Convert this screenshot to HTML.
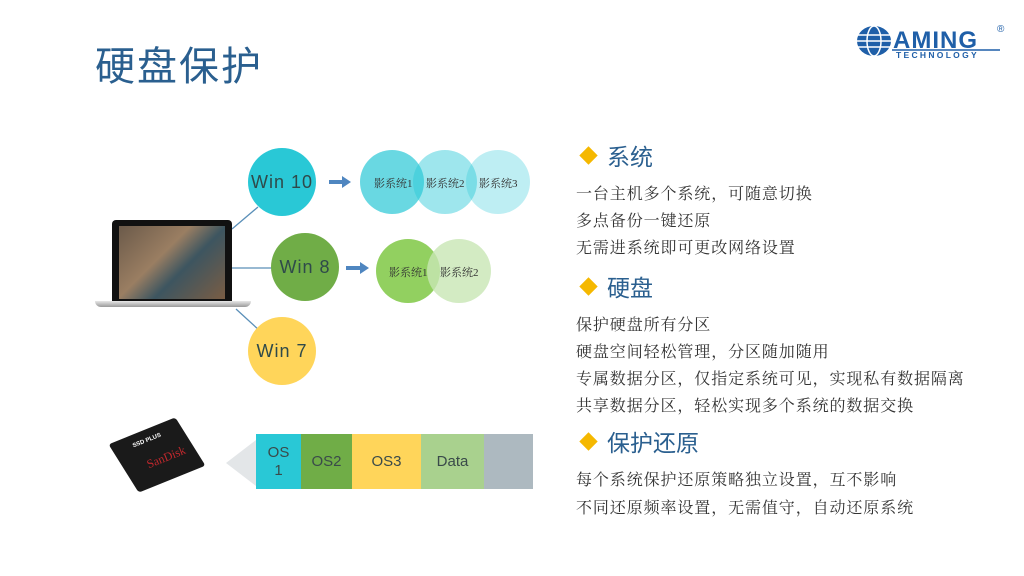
<!DOCTYPE html>
<html><head><meta charset="utf-8"><style>
body{margin:0;width:1024px;height:576px;background:#fff;position:relative;overflow:hidden;font-family:"Liberation Sans","Noto Sans CJK SC",sans-serif}
.a{position:absolute}
.c{position:absolute;border-radius:50%;display:flex;align-items:center;justify-content:center}
.w{font-family:"Comic Sans MS","Liberation Sans",sans-serif;font-size:18px;color:#2f4a4a;letter-spacing:1px}
.s{font-family:"Liberation Serif","Noto Serif CJK SC",serif;font-size:11px;color:#333}
.h{position:absolute;left:578px;font-size:23px;color:#2a5f8f;display:flex;align-items:center}
.h i{display:inline-block;width:13px;height:13px;background:#f5b800;transform:rotate(45deg);margin:0 12px 0 4px}
.t{position:absolute;left:576px;font-family:"Liberation Serif","Noto Serif CJK SC",serif;font-size:16px;color:#333;letter-spacing:0.9px;white-space:nowrap}
.seg{position:absolute;top:434px;height:55px;display:flex;align-items:center;justify-content:center;font-family:"Comic Sans MS","Liberation Sans",sans-serif;font-size:15px;color:#3a4a4a;text-align:center;line-height:18px}
</style></head><body>
<div class="a" style="left:95px;top:34px;font-size:40px;color:#2a5f8f;letter-spacing:2px">硬盘保护</div>
<svg class="a" style="left:852px;top:18px" width="170" height="45">
<ellipse cx="22" cy="23" rx="17" ry="15" fill="#1f5fa8"/>
<g stroke="#fff" stroke-width="1.5" fill="none"><line x1="5" y1="23" x2="39" y2="23"/><line x1="6" y1="17" x2="38" y2="17"/><line x1="6" y1="29" x2="38" y2="29"/><ellipse cx="22" cy="23" rx="7" ry="15"/></g>
<text x="41" y="30" font-family="Liberation Sans" font-weight="bold" font-size="24" fill="#1f5fa8" letter-spacing="1">AMING</text>
<text x="145" y="14" font-family="Liberation Sans" font-size="10" fill="#1f5fa8">®</text>
<text x="44" y="40" font-family="Liberation Sans" font-weight="bold" font-size="8.5" fill="#1f5fa8" letter-spacing="2.3">TECHNOLOGY</text>
<line x1="40" y1="32" x2="148" y2="32" stroke="#1f5fa8" stroke-width="1.5"/>
</svg>
<svg class="a" style="left:0;top:0" width="560" height="576">
<g stroke="#5a8fb8" stroke-width="1.3"><line x1="232" y1="229" x2="258" y2="207"/><line x1="232" y1="268" x2="272" y2="268"/><line x1="236" y1="309" x2="260" y2="331"/></g>
<g fill="#4f86c0"><rect x="329" y="180" width="14" height="4"/><polygon points="342,176 351,182 342,188"/><rect x="346" y="266" width="15" height="4"/><polygon points="360,262 369,268 360,274"/></g>
<polygon points="226,463 256,440 256,486" fill="#e3e6e8"/>
</svg>
<div class="a" style="left:112px;top:220px;width:120px;height:82px;background:#111;border-radius:4px 4px 0 0"></div>
<div class="a" style="left:119px;top:226px;width:106px;height:73px;background:linear-gradient(135deg,#6b5a4a,#9a7e62 40%,#3d5560 60%,#7a5d44)"></div>
<div class="a" style="left:95px;top:301px;width:156px;height:6px;background:linear-gradient(#e8e8e8,#9a9a9a);border-radius:0 0 6px 6px"></div>
<div class="c w" style="left:248px;top:148px;width:68px;height:68px;background:#29c8d6">Win 10</div>
<div class="c w" style="left:271px;top:233px;width:68px;height:68px;background:#70ad47">Win 8</div>
<div class="c w" style="left:248px;top:317px;width:68px;height:68px;background:#ffd55a">Win 7</div>
<div class="c" style="left:466px;top:150px;width:64px;height:64px;background:rgba(41,200,214,0.3)"></div>
<div class="c" style="left:413px;top:150px;width:64px;height:64px;background:rgba(41,200,214,0.45)"></div>
<div class="c" style="left:360px;top:150px;width:64px;height:64px;background:rgba(41,200,214,0.7)"></div>
<div class="a s" style="left:374px;top:175px">影系统1</div>
<div class="a s" style="left:426px;top:175px">影系统2</div>
<div class="a s" style="left:479px;top:175px">影系统3</div>
<div class="c" style="left:376px;top:239px;width:64px;height:64px;background:#92d060"></div>
<div class="c" style="left:427px;top:239px;width:64px;height:64px;background:rgba(200,230,180,0.8)"></div>
<div class="a s" style="left:389px;top:264px">影系统1</div>
<div class="a s" style="left:440px;top:264px">影系统2</div>
<div class="a" style="left:121px;top:427px;width:72px;height:56px;background:#1a1a1a;transform:rotate(-22deg) skewX(10deg);border-radius:3px"></div>
<div class="a" style="left:132px;top:438px;font-size:6px;color:#fff;font-weight:bold;transform:rotate(-22deg)">SSD PLUS</div>
<div class="a" style="left:146px;top:450px;font-family:'Liberation Serif',serif;font-size:12px;color:#c0282d;transform:rotate(-22deg)">SanDisk</div>
<div class="seg" style="left:256px;width:45px;background:#29c8d6">OS<br>1</div>
<div class="seg" style="left:301px;width:51px;background:#70ad47">OS2</div>
<div class="seg" style="left:352px;width:69px;background:#ffd55a">OS3</div>
<div class="seg" style="left:421px;width:63px;background:#a9d18e">Data</div>
<div class="seg" style="left:484px;width:49px;background:#adb9c0"></div>
<div class="h" style="top:138px"><i></i>系统</div>
<div class="t" style="top:181px">一台主机多个系统，可随意切换</div>
<div class="t" style="top:208px">多点备份一键还原</div>
<div class="t" style="top:235px">无需进系统即可更改网络设置</div>
<div class="h" style="top:269px"><i></i>硬盘</div>
<div class="t" style="top:312px">保护硬盘所有分区</div>
<div class="t" style="top:339px">硬盘空间轻松管理，分区随加随用</div>
<div class="t" style="top:366px">专属数据分区，仅指定系统可见，实现私有数据隔离</div>
<div class="t" style="top:393px">共享数据分区，轻松实现多个系统的数据交换</div>
<div class="h" style="top:424px"><i></i>保护还原</div>
<div class="t" style="top:467px">每个系统保护还原策略独立设置，互不影响</div>
<div class="t" style="top:495px">不同还原频率设置，无需值守，自动还原系统</div>
</body></html>
